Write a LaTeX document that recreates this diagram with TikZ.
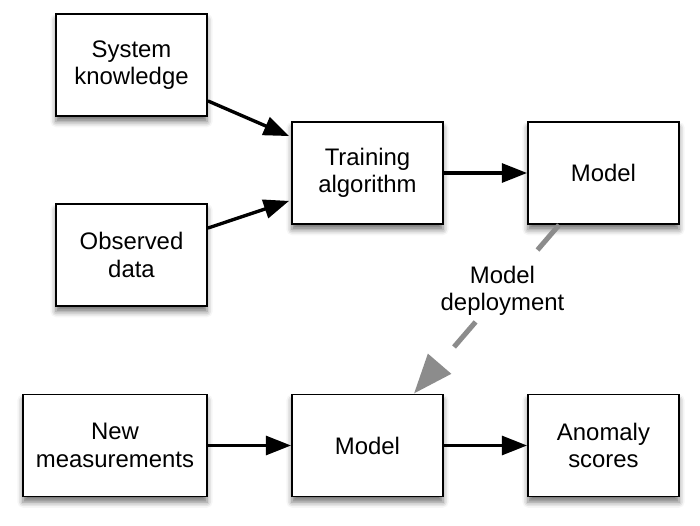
\documentclass[tikz,border=0pt]{standalone}
\usepackage{fontspec}
\setmainfont{Liberation Sans}
\usetikzlibrary{arrows.meta,calc,shadows.blur}

\begin{document}
\begin{tikzpicture}[x=0.025cm, y=-0.025cm, font=\fontsize{17}{19.5}\selectfont,
                        box/.style={draw, line width=1.3pt, fill=white, minimum width=3.775cm, minimum height=2.55cm, align=center, blur shadow={shadow xshift=0pt, shadow yshift=-4pt, shadow blur radius=4pt, shadow opacity=55}},
                        link/.style={line width=2.4pt, -{Triangle[length=18pt, width=13.5pt]}},
                        deploy/.style={line width=3.6pt, black!45, dash pattern=on 23.5pt off 22pt, -{Triangle[length=28pt, width=21pt]}}]
                        \useasboundingbox (0,0) rectangle (700,526);
                        
                        \node[box] (sk) at (131.5,65) {System\\knowledge};
                        \node[box] (od) at (131.5,255) {Observed\\data};
                        \node[box] (ta) at (367.5,173) {Training\\algorithm};
                        \node[box] (m1) at (603.5,173) {Model};
                        
                        \node[box, minimum width=4.6cm] (nm) at (115,445.5) {New\\measurements};
                        \node[box] (m2) at (367.5,445.5) {Model};
                        \node[box] (as) at (603.5,445.5) {Anomaly\\scores};
                        
                        \draw[link] ($(sk.south east)+(0,-16)$) -- ($(ta.north west)+(-2,15)$);
                        \draw[link] ($(od.north east)+(0,25)$) -- ($(ta.south west)+(-2,-24)$);
                        \draw[link] (ta.east) -- (m1.west);
                        \draw[link] (nm.east) -- (m2.west);
                        \draw[link] (m2.east) -- (as.west);
                        
                        \draw[deploy] ($(m1.south west)+(32,0)$) -- node[pos=0.39, fill=white, text=black, align=center] (dep) {Model\\deployment} ($(m2.north east)+(-30,0)$);
                    \end{tikzpicture}
\end{document}
